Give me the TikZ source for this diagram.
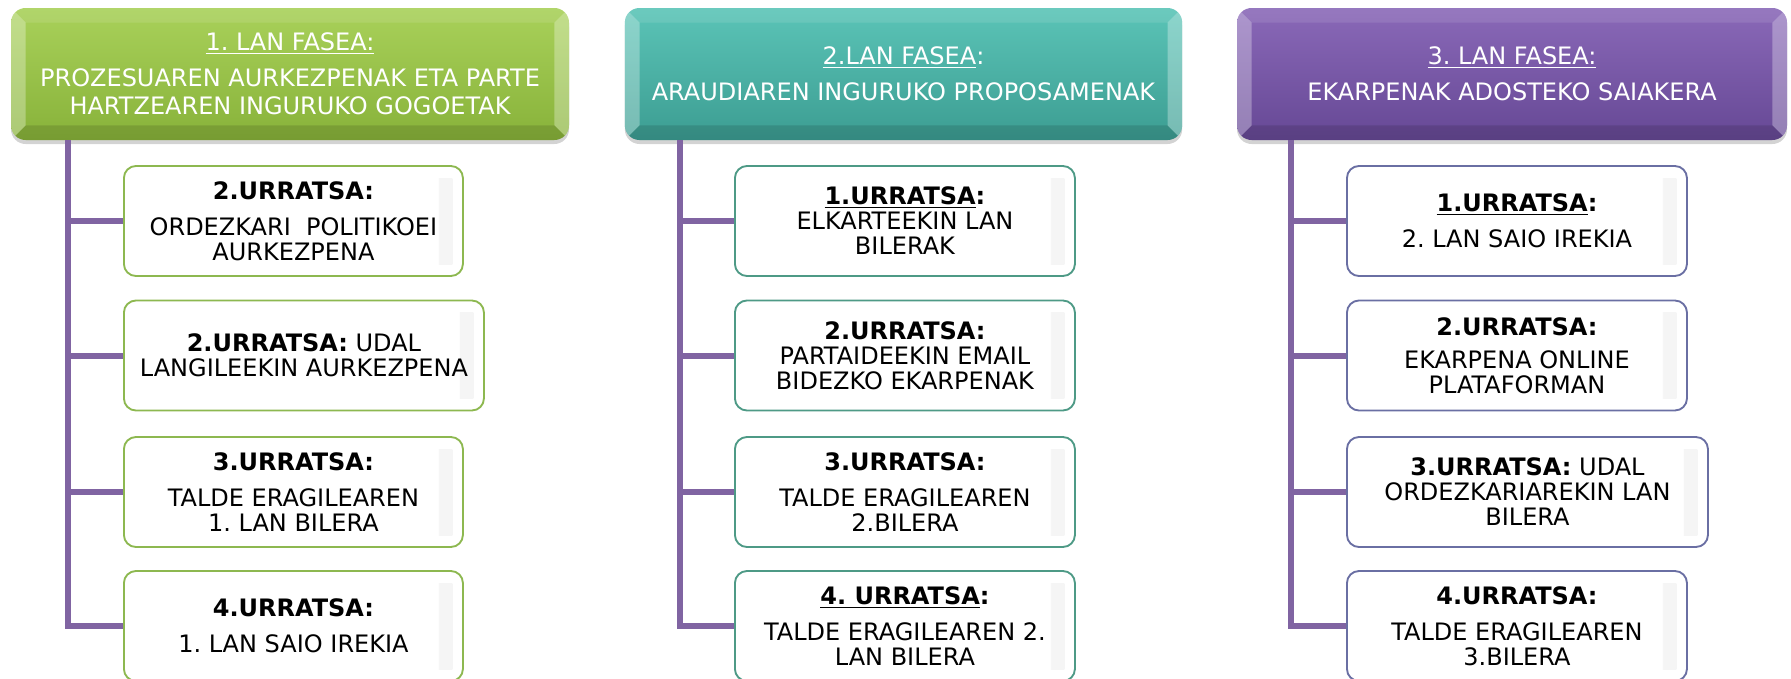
\documentclass[tikz,border=0pt]{standalone}
\usepackage{fontspec}
\setmainfont{DejaVu Sans}
\frenchspacing
\usetikzlibrary{shadows}

\definecolor{faseAgoi}{HTML}{A9D15A}
\definecolor{faseAbehe}{HTML}{88B23A}
\definecolor{faseBgoi}{HTML}{5BC4B7}
\definecolor{faseBbehe}{HTML}{3C9D92}
\definecolor{faseCgoi}{HTML}{8A69B8}
\definecolor{faseCbehe}{HTML}{664895}
\definecolor{ertzA}{HTML}{8DB850}
\definecolor{ertzB}{HTML}{4E9A86}
\definecolor{ertzC}{HTML}{6A6FA3}
\definecolor{lotu}{HTML}{8064A2}

\begin{document}
\begin{tikzpicture}[x=0.75pt, y=-0.75pt,
  fase/.style={rounded corners=11pt, minimum height=99pt, inner sep=0pt,
    text=white, align=center, font=\fontsize{18}{21}\selectfont,
    drop shadow={shadow xshift=0pt, shadow yshift=-3pt, opacity=0.35},
    path picture={
      \fill[sharp corners, white, opacity=0.3] (path picture bounding box.north west)
        -- ([xshift=11pt,yshift=-11pt]path picture bounding box.north west)
        -- ([xshift=11pt,yshift=11pt]path picture bounding box.south west)
        -- (path picture bounding box.south west) -- cycle;
      \fill[sharp corners, white, opacity=0.3] (path picture bounding box.north east)
        -- ([xshift=-11pt,yshift=-11pt]path picture bounding box.north east)
        -- ([xshift=-11pt,yshift=11pt]path picture bounding box.south east)
        -- (path picture bounding box.south east) -- cycle;
      \fill[sharp corners, white, opacity=0.1] (path picture bounding box.north west)
        -- ([xshift=11pt,yshift=-11pt]path picture bounding box.north west)
        -- ([xshift=-11pt,yshift=-11pt]path picture bounding box.north east)
        -- (path picture bounding box.north east) -- cycle;
      \fill[sharp corners, black, opacity=0.12] (path picture bounding box.south west)
        -- ([xshift=11pt,yshift=11pt]path picture bounding box.south west)
        -- ([xshift=-11pt,yshift=11pt]path picture bounding box.south east)
        -- (path picture bounding box.south east) -- cycle;
    }},
  urrats/.style={draw, line width=1.4pt, rounded corners=9pt, fill=white,
    minimum height=82.5pt, inner sep=0pt, anchor=west, align=center,
    font=\fontsize{18}{18.75}\selectfont,
    path picture={
      \shade[sharp corners, left color=white, right color=black!4]
        ([xshift=-18pt,yshift=-9pt]path picture bounding box.north east)
        rectangle ([xshift=-8pt,yshift=9pt]path picture bounding box.south east);
    }},
  lotura/.style={draw=lotu, line width=4.5pt}
]
\useasboundingbox (0,0) rectangle (1791,678);
\clip (0,0) rectangle (1791,678);

% faseak
\node[fase, top color=faseAgoi, bottom color=faseAbehe, minimum width=418.5pt] (fase1) at (290,74)
  {\underline{1. LAN FASEA:}\\[6pt] PROZESUAREN AURKEZPENAK ETA PARTE\\ HARTZEAREN INGURUKO GOGOETAK};
\node[fase, top color=faseBgoi, bottom color=faseBbehe, minimum width=418pt] (fase2) at (903.5,74)
  {\underline{2.LAN FASEA}:\\[6pt] ARAUDIAREN INGURUKO PROPOSAMENAK};
\node[fase, top color=faseCgoi, bottom color=faseCbehe, minimum width=412.5pt] (fase3) at (1512,74)
  {\underline{3. LAN FASEA:}\\[6pt] EKARPENAK ADOSTEKO SAIAKERA};

% 1. fasea: urratsak
\node[urrats, draw=ertzA, minimum width=254.25pt] (u11) at (123,221)
  {\textbf{2.URRATSA:}\\[8pt] ORDEZKARI~ POLITIKOEI\\ AURKEZPENA};
\node[urrats, draw=ertzA, minimum width=270pt] (u12) at (123,355.5)
  {\textbf{2.URRATSA:} UDAL\\ LANGILEEKIN AURKEZPENA};
\node[urrats, draw=ertzA, minimum width=254.25pt] (u13) at (123,492)
  {\textbf{3.URRATSA:}\\[8pt] TALDE ERAGILEAREN\\ 1. LAN BILERA};
\node[urrats, draw=ertzA, minimum width=254.25pt] (u14) at (123,626)
  {\textbf{4.URRATSA:}\\[8pt] 1. LAN SAIO IREKIA};

% 2. fasea: urratsak
\node[urrats, draw=ertzB, minimum width=255pt] (u21) at (734,221)
  {\textbf{\underline{1.URRATSA}:}\\ ELKARTEEKIN LAN\\ BILERAK};
\node[urrats, draw=ertzB, minimum width=255pt] (u22) at (734,355.5)
  {\textbf{2.URRATSA:}\\ PARTAIDEEKIN EMAIL\\ BIDEZKO EKARPENAK};
\node[urrats, draw=ertzB, minimum width=255pt] (u23) at (734,492)
  {\textbf{3.URRATSA:}\\[8pt] TALDE ERAGILEAREN\\ 2.BILERA};
\node[urrats, draw=ertzB, minimum width=255pt] (u24) at (734,626)
  {\textbf{\underline{4. URRATSA}:}\\[8pt] TALDE ERAGILEAREN 2.\\ LAN BILERA};

% 3. fasea: urratsak
\node[urrats, draw=ertzC, minimum width=255pt] (u31) at (1346,221)
  {\textbf{\underline{1.URRATSA}:}\\[8pt] 2. LAN SAIO IREKIA};
\node[urrats, draw=ertzC, minimum width=255pt] (u32) at (1346,355.5)
  {\textbf{2.URRATSA:}\\[6pt] EKARPENA ONLINE\\ PLATAFORMAN};
\node[urrats, draw=ertzC, minimum width=270.75pt] (u33) at (1346,492)
  {\textbf{3.URRATSA:} UDAL\\ ORDEZKARIAREKIN LAN\\ BILERA};
\node[urrats, draw=ertzC, minimum width=255pt] (u34) at (1346,626)
  {\textbf{4.URRATSA:}\\[8pt] TALDE ERAGILEAREN\\ 3.BILERA};

% enborrak eta adarrak
\coordinate (enbor1) at (68,0);
\coordinate (enbor2) at (680,0);
\coordinate (enbor3) at (1291,0);
\foreach \f in {1,2,3} {
  \draw[lotura] (enbor\f |- fase\f.south) -- (enbor\f |- u\f4.west) -- (u\f4.west);
  \foreach \u in {1,2,3}
    \draw[lotura] (enbor\f |- u\f\u.west) -- (u\f\u.west);
}

\end{tikzpicture}
\end{document}
